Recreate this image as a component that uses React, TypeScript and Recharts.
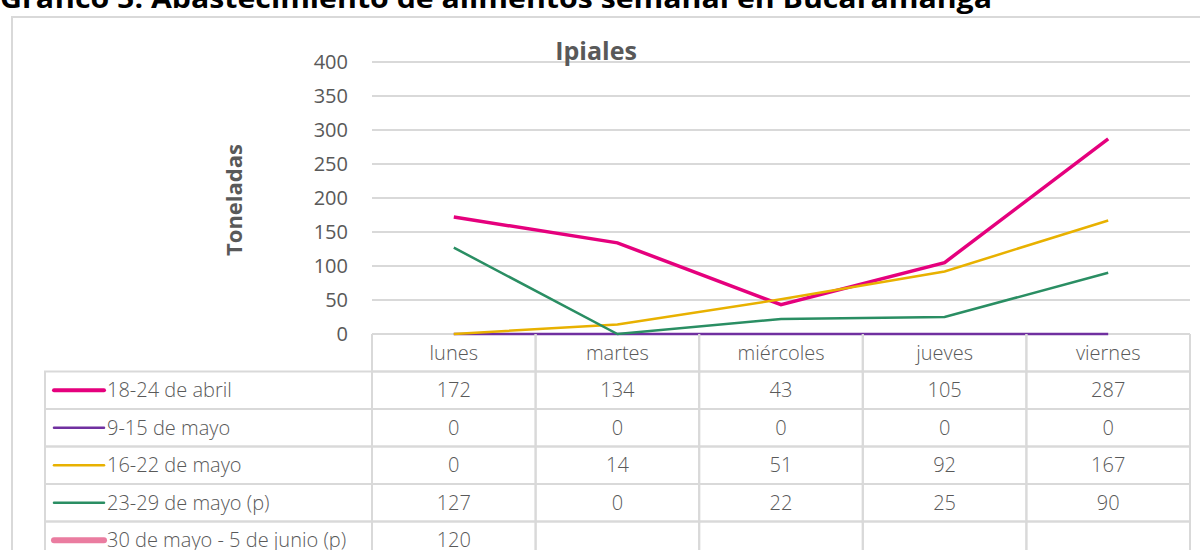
import { LineChart, Line, XAxis, YAxis, CartesianGrid } from "recharts"

// categorías y series (toneladas)
const dias = ["lunes", "martes", "miércoles", "jueves", "viernes"]
const abril18a24 = [172, 134, 43, 105, 287]
const mayo9a15 = [0, 0, 0, 0, 0]
const mayo16a22 = [0, 14, 51, 92, 167]
const mayo23a29 = [127, 0, 22, 25, 90]
const mayo30junio5 = [120, null, null, null, null]
const yTicks = [0, 50, 100, 150, 200, 250, 300, 350, 400]

const series = [
  { key: "s1", name: "18-24 de abril", values: abril18a24, color: "#E5007D", width: 3.5, legendWidth: 4 },
  { key: "s2", name: "9-15 de mayo", values: mayo9a15, color: "#7030A0", width: 2.5, legendWidth: 2.5 },
  { key: "s3", name: "16-22 de mayo", values: mayo16a22, color: "#E8B100", width: 2.5, legendWidth: 2.5 },
  { key: "s4", name: "23-29 de mayo (p)", values: mayo23a29, color: "#2A8E63", width: 2.5, legendWidth: 2.5 },
  { key: "s5", name: "30 de mayo - 5 de junio (p)", values: mayo30junio5, color: "#EA7CA0", width: 6, legendWidth: 6 },
]

const data = dias.map((dia, i) => {
  const row: Record<string, string | number | null> = { dia }
  series.forEach((s) => {
    row[s.key] = s.values[i]
  })
  return row
})

const W = 1200
const H = 550
const PLOT_LEFT = 372
const PLOT_RIGHT = 1190
const PLOT_TOP = 62
const PLOT_BOTTOM = 334
const ROW_H = 37.5
const BAND = (PLOT_RIGHT - PLOT_LEFT) / dias.length
const TABLE_LEFT = 45
const GRID = "#D9D9D9"
const TEXT = "#595959"
const FONT = "'Open Sans', 'Noto Sans', sans-serif"
const CELL_FONT = 20

function TableTick(props: any) {
  const { x, y, payload, index } = props
  const left = x - BAND / 2
  const right = x + BAND / 2
  return (
    <g>
      {/* header cell: the 0 gridline is its top edge */}
      <path
        d={`M${left},${y} V${y + ROW_H} H${right} V${y}`}
        fill="none"
        stroke={GRID}
        strokeWidth={2}
      />
      {[1, 2, 3, 4, 5].map((r) => (
        <rect
          key={r}
          x={left}
          y={y + r * ROW_H}
          width={BAND}
          height={ROW_H}
          fill="none"
          stroke={GRID}
          strokeWidth={2}
        />
      ))}
      <text
        x={x}
        y={y + ROW_H / 2}
        dy="0.35em"
        textAnchor="middle"
        fontSize={CELL_FONT}
        fontWeight={300}
        fill={TEXT}
        fontFamily={FONT}
      >
        {payload.value}
      </text>
      {series.map((s, r) => {
        const v = s.values[index]
        if (v === null || v === undefined) return null
        return (
          <text
            key={s.key}
            x={x}
            y={y + (r + 1) * ROW_H + ROW_H / 2}
            dy="0.35em"
            textAnchor="middle"
            fontSize={CELL_FONT}
            fontWeight={300}
            fill={TEXT}
            fontFamily={FONT}
          >
            {v}
          </text>
        )
      })}
    </g>
  )
}

export default function App() {
  return (
    <div style={{ position: "absolute", left: 0, top: 0, width: W, height: H, background: "#fff", overflow: "hidden" }}>
      <svg width={W} height={H} style={{ position: "absolute", left: 0, top: 0 }}>
        <text
          x={0}
          y={8}
          fontSize={26}
          fontWeight={700}
          fill="#000"
          fontFamily={FONT}
          textLength={992}
          lengthAdjust="spacingAndGlyphs"
        >
          Gráfico 5. Abastecimiento de alimentos semanal en Bucaramanga
        </text>
        <rect x={12} y={17} width={1300} height={700} fill="none" stroke={GRID} strokeWidth={2} />
      </svg>
      <div style={{ position: "absolute", left: 0, top: 0 }}>
        <LineChart
          width={W}
          height={H}
          data={data}
          margin={{ top: PLOT_TOP, right: W - PLOT_RIGHT, left: PLOT_LEFT - 60, bottom: H - PLOT_BOTTOM - 30 }}
        >
          <CartesianGrid vertical={false} stroke={GRID} strokeWidth={2} />
          <XAxis
            dataKey="dia"
            height={30}
            tickSize={0}
            tickMargin={0}
            padding={{ left: BAND / 2, right: BAND / 2 }}
            axisLine={false}
            tick={<TableTick />}
            interval={0}
          />
          <YAxis
            width={60}
            domain={[0, 400]}
            ticks={yTicks}
            axisLine={false}
            tickLine={false}
            tickSize={0}
            tickMargin={24}
            tick={{ fontSize: 20, fill: TEXT, fontFamily: FONT }}
          />
          {series.map((s) => (
            <Line
              key={s.key}
              dataKey={s.key}
              name={s.name}
              type="linear"
              stroke={s.color}
              strokeWidth={s.width}
              dot={false}
              activeDot={false}
              isAnimationActive={false}
            />
          ))}
        </LineChart>
      </div>
      <svg width={W} height={H} style={{ position: "absolute", left: 0, top: 0, pointerEvents: "none" }}>
        <text
          x={596}
          y={60}
          textAnchor="middle"
          fontSize={25}
          fontWeight={700}
          fill={TEXT}
          fontFamily={FONT}
        >
          Ipiales
        </text>
        <text
          transform="translate(242,200) rotate(-90)"
          textAnchor="middle"
          fontSize={22}
          fontWeight={700}
          fill={TEXT}
          fontFamily={FONT}
        >
          Toneladas
        </text>
        {series.map((s, r) => {
          const top = PLOT_BOTTOM + (r + 1) * ROW_H
          const cy = top + ROW_H / 2
          return (
            <g key={s.key}>
              <rect
                x={TABLE_LEFT}
                y={top}
                width={PLOT_LEFT - TABLE_LEFT}
                height={ROW_H}
                fill="none"
                stroke={GRID}
                strokeWidth={2}
              />
              <line
                x1={54}
                x2={104}
                y1={cy}
                y2={cy}
                stroke={s.color}
                strokeWidth={s.legendWidth}
                strokeLinecap="round"
              />
              <text
                x={107}
                y={cy}
                dy="0.35em"
                fontSize={CELL_FONT}
                fontWeight={300}
                fill={TEXT}
                fontFamily={FONT}
              >
                {s.name}
              </text>
            </g>
          )
        })}
      </svg>
    </div>
  )
}
